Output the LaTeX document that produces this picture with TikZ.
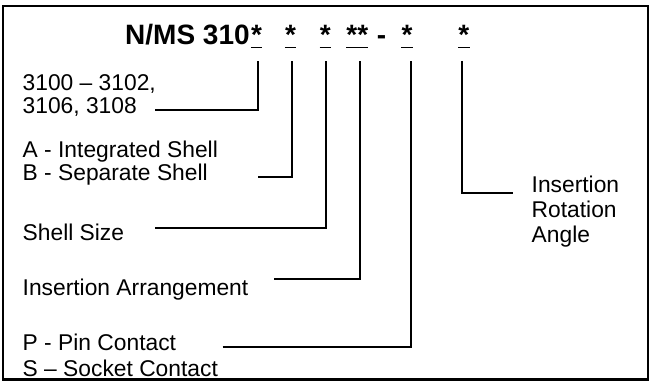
\documentclass[tikz,border=0pt]{standalone}
\usepackage{fontspec}
\setmainfont{Liberation Sans}
\begin{document}
\begin{tikzpicture}[x=1pt,y=-1pt,
  lbl/.style={anchor=base west, inner sep=0pt, font=\fontsize{22.8}{27}\selectfont},
  ttl/.style={anchor=base, inner sep=0pt, font=\fontsize{28}{32}\selectfont\bfseries},
  conn/.style={line width=2pt},
  uline/.style={line width=1.7pt},
  frame/.style={line width=2.2pt}]
\useasboundingbox (0,0) rectangle (655,385);
\draw[frame] (3,6) rectangle (648,379.5);
% title
\node[ttl, anchor=base west] (title) at (125,45) {N/MS 310};
\node[ttl] (s1) at (256.5,45) {*};
\node[ttl] (s2) at (290.5,45) {*};
\node[ttl] (s3) at (325.2,45) {*};
\node[ttl] (s4) at (357.3,45) {**};
\node[ttl] (dash) at (381.5,45) {-};
\node[ttl] (s5) at (407,45) {*};
\node[ttl] (s6) at (463.9,45) {*};
\foreach \s in {s1,s2,s3,s4,s5,s6}
  \draw[uline] ([yshift=-2.5pt]\s.base west) -- ([yshift=-2.5pt]\s.base east);
% tops of leader lines
\coordinate (v1) at (257.7,61);
\coordinate (v2) at (291.7,61);
\coordinate (v3) at (325.7,61);
\coordinate (v4) at (360,61);
\coordinate (v5) at (410.7,61);
\coordinate (v6) at (461.7,61);
% labels
\node[lbl] (t1a) at (22.5,90.7) {3100 – 3102,};
\node[lbl] (t1b) at (22.5,113.3) {3106, 3108};
\node[lbl] (t2a) at (22.5,157.7) {A - Integrated Shell};
\node[lbl] (t2b) at (22.5,180.7) {B - Separate Shell};
\node[lbl] (t3) at (22.5,240) {Shell Size};
\node[lbl] (t4) at (22.5,295) {Insertion Arrangement};
\node[lbl] (t5a) at (22.5,350) {P - Pin Contact};
\node[lbl] (t5b) at (22.5,376.7) {S – Socket Contact};
\node[lbl] (t6a) at (531.5,192.7) {Insertion};
\node[lbl] (t6b) at (531.5,217.7) {Rotation};
\node[lbl] (t6c) at (531.5,242.7) {Angle};
% leader start points
\coordinate (c1) at (155,110);
\coordinate (c2) at (258.3,176.7);
\coordinate (c3) at (155,227.7);
\coordinate (c4) at (274,279);
\coordinate (c5) at (222.7,346.7);
\coordinate (c6) at (513.3,193.3);
\draw[conn] (c1) -| (v1);
\draw[conn] (c2) -| (v2);
\draw[conn] (c3) -| (v3);
\draw[conn] (c4) -| (v4);
\draw[conn] (c5) -| (v5);
\draw[conn] (v6) |- (c6);
\end{tikzpicture}
\end{document}
